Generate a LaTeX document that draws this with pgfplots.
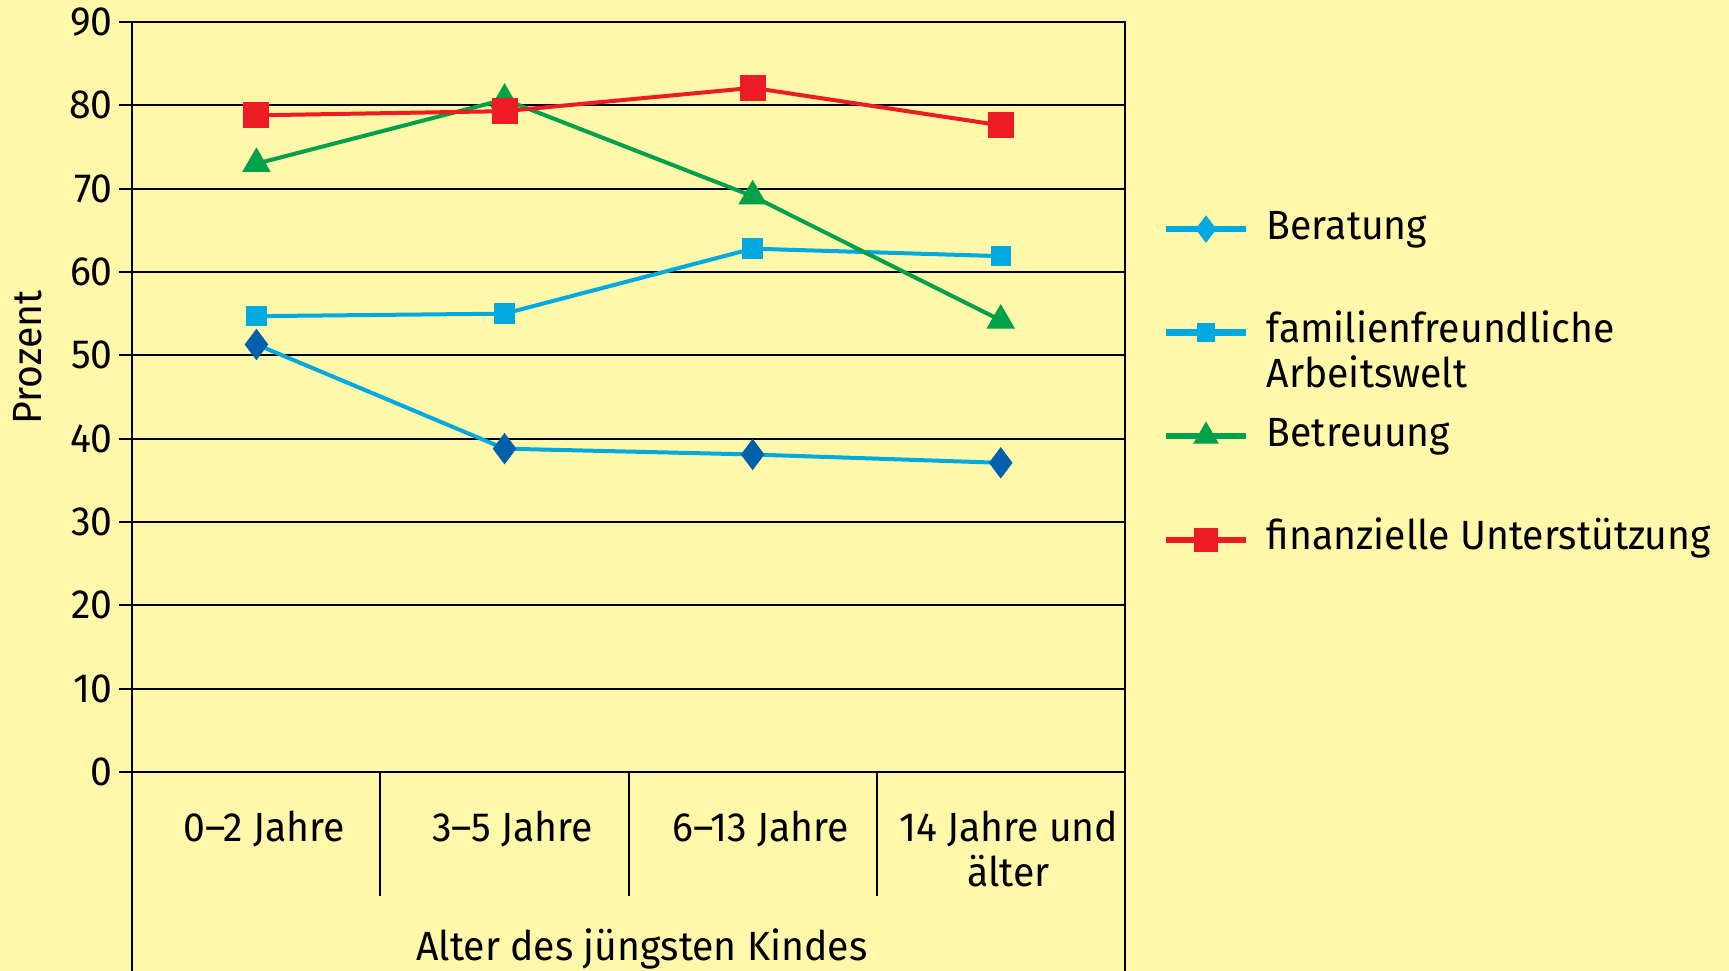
\documentclass[border=0pt]{standalone}
\usepackage{fontspec}
\setmainfont{Fira Sans}[FakeStretch=0.96]
\usepackage{pgfplots}
\pgfplotsset{compat=1.18}

\definecolor{bgyellow}{RGB}{255,247,170}
\definecolor{lineblue}{RGB}{0,169,224}
\definecolor{darkblue}{RGB}{0,96,172}
\definecolor{mygreen}{RGB}{0,161,75}
\definecolor{myred}{RGB}{237,28,36}

\begin{document}
\fontsize{10.2}{11.3}\selectfont
\begin{tikzpicture}
\fill[bgyellow] (-33.1pt,-49.75pt) rectangle (399.15pt,193pt);
\useasboundingbox (-33.1pt,-49.75pt) rectangle (399.15pt,193pt);
\begin{axis}[
    at={(0,0)}, anchor=south west,
    scale only axis, width=248.1pt, height=187.5pt,
    xmin=-0.5, xmax=3.5, ymin=0, ymax=90,
    xtick={0,1,2,3},
    xticklabels={0--2 Jahre, 3--5 Jahre, 6--13 Jahre, {14 Jahre und\\älter}},
    ytick={0,10,...,90},
    ymajorgrids,
    grid style={black, line width=0.5pt},
    axis line style={black, line width=0.5pt},
    tick align=outside, ytick pos=left,
    major tick length=3.3pt,
    x tick style={draw=none},
    y tick style={black, line width=0.5pt},
    xticklabel style={align=center, anchor=north, inner sep=0pt, yshift=-6.3pt, xshift=2pt},
    yticklabel style={anchor=east, inner sep=0pt, xshift=-1.4pt},
    /pgf/number format/assume math mode=true,
    xlabel={Alter des jüngsten Kindes},
    xlabel style={at={(axis description cs:0.5,0)}, anchor=center, yshift=-44.2pt, xshift=3.3pt},
    ylabel={Prozent},
    ylabel style={at={(axis description cs:-0.1056,0.553)}, anchor=center},
    clip=false,
    legend cell align=left,
    legend image code/.code={\draw[mark repeat=2,mark phase=2,#1] plot coordinates {(0pt,0pt) (10pt,0pt) (20pt,0pt)};},
    legend style={at={(1.0375,0.749)}, anchor=north west, draw=none, fill=none,
        inner sep=0pt, row sep=16.9pt, column sep=4.4pt,
        nodes={inner sep=0pt, text height=7pt, text depth=2pt, anchor=west}},
]
\addlegendimage{lineblue, line width=1.6pt, mark=diamond*, mark size=3.2pt, mark options={solid, fill=lineblue, draw=lineblue, line width=0.3pt}}
\addlegendentry{Beratung}
\addlegendimage{lineblue, line width=1.6pt, mark=square*, mark size=2.2pt, mark options={solid, fill=lineblue, draw=lineblue, line width=0.3pt}}
\addlegendentry{\smash{\parbox[t]{4cm}{familienfreundliche\\Arbeitswelt}}}
\addlegendimage{mygreen, line width=1.6pt, mark=triangle*, mark size=3.4pt, mark options={solid, fill=mygreen, draw=mygreen, line width=0.3pt}}
\addlegendentry{Betreuung}
\addlegendimage{myred, line width=1.6pt, mark=square*, mark size=2.9pt, mark options={solid, fill=myred, draw=myred, line width=0.3pt}}
\addlegendentry{finanzielle Unterstützung}

\addplot[forget plot, lineblue, line width=1pt, mark=diamond*, mark size=3.6pt,
    mark options={fill=darkblue, draw=darkblue, line width=0.4pt}]
    coordinates {(0,51.3) (1,38.8) (2,38.1) (3,37.1)};
\addplot[forget plot, lineblue, line width=1pt, mark=square*, mark size=2.4pt,
    mark options={fill=lineblue, draw=lineblue, line width=0.3pt}]
    coordinates {(0,54.7) (1,55.0) (2,62.8) (3,61.9)};
\addplot[forget plot, mygreen, line width=1pt, mark=triangle*, mark size=3.8pt,
    mark options={fill=mygreen, draw=mygreen, line width=0.3pt}]
    coordinates {(0,73.0) (1,80.7) (2,69.1) (3,54.2)};
\addplot[forget plot, myred, line width=1pt, mark=square*, mark size=3.1pt,
    mark options={fill=myred, draw=myred, line width=0.3pt}]
    coordinates {(0,78.8) (1,79.3) (2,82.1) (3,77.6)};

\draw[black, line width=0.5pt] (rel axis cs:0,0) -- ++(0pt,-49.75pt);
\draw[black, line width=0.5pt] (rel axis cs:1,0) -- ++(0pt,-49.75pt);
\draw[black, line width=0.5pt] (axis cs:0.5,0) -- ++(0pt,-30.9pt);
\draw[black, line width=0.5pt] (axis cs:1.5,0) -- ++(0pt,-30.9pt);
\draw[black, line width=0.5pt] (axis cs:2.5,0) -- ++(0pt,-30.9pt);
\end{axis}
\end{tikzpicture}
\end{document}
